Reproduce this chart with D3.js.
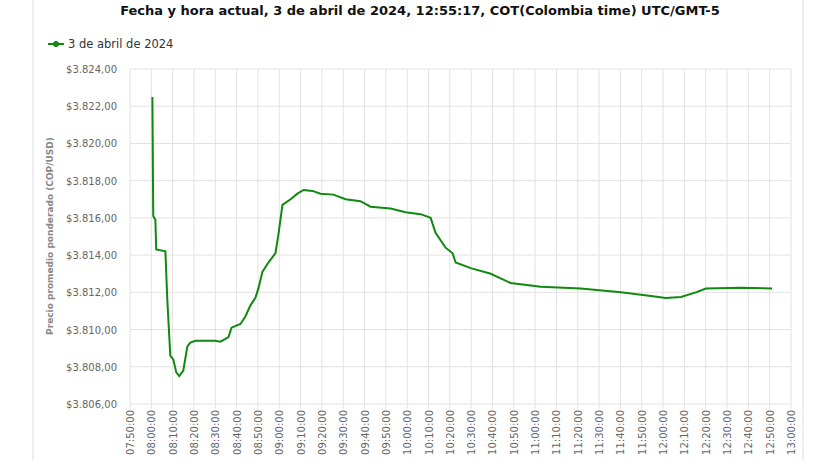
<!DOCTYPE html>
<html><head><meta charset="utf-8">
<script src="https://cdn.jsdelivr.net/npm/d3@7"></script>
<style>body{margin:0;background:#fff;font-family:"DejaVu Sans",sans-serif}</style>
</head><body>
<svg width="826" height="460"></svg>
<script>
// minutes after 08:00 and price (COP/USD)
var minutes = [0.5,0.9,1.9,2.3,6.6,7.5,8.9,10.3,11.7,13.1,15,16.9,18.3,20.7,30,32.4,36.2,37.6,41.8,44.1,46.5,48.8,50.2,52.1,54.9,58.2,59.6,61.5,65.3,68.5,71.4,75.6,79.3,85.4,91.1,98.1,102.8,112.2,119.2,126.3,131,133.3,138,141.3,142.7,149.8,159.2,168.5,182.6,201.4,220.2,234.3,241.3,248.4,255.4,260.1,276.5,291.1];
var prices = [3822.5,3816.1,3815.9,3814.3,3814.2,3811.6,3808.6,3808.4,3807.7,3807.5,3807.8,3809.1,3809.3,3809.4,3809.4,3809.35,3809.6,3810.1,3810.3,3810.7,3811.3,3811.7,3812.2,3813.1,3813.6,3814.1,3815.1,3816.7,3817.0,3817.3,3817.5,3817.45,3817.3,3817.25,3817.0,3816.9,3816.6,3816.5,3816.3,3816.2,3816.0,3815.2,3814.4,3814.1,3813.6,3813.3,3813.0,3812.5,3812.3,3812.2,3812.0,3811.8,3811.7,3811.75,3812.0,3812.2,3812.25,3812.2];
var yTicks = [3806,3808,3810,3812,3814,3816,3818,3820,3822,3824];
var title = "Fecha y hora actual, 3 de abril de 2024, 12:55:17, COT(Colombia time) UTC/GMT-5";
var seriesName = "3 de abril de 2024";

var svg = d3.select("svg");
var base = new Date(2024, 3, 3, 8, 0, 0);
var toDate = function (m) { return new Date(base.getTime() + m * 60000); };
var x = d3.scaleTime().domain([new Date(2024,3,3,7,50), new Date(2024,3,3,13,0)]).range([130, 791]);
var y = d3.scaleLinear().domain([3806, 3824]).range([404, 69]);
var xTicks = d3.timeMinute.every(10).range(x.domain()[0], new Date(2024,3,3,13,0,1));
var fmt = function (v) { return "$" + d3.format(",.2f")(v).replace(/,/g, "#").replace(".", ",").replace(/#/g, "."); };

// frame lines
svg.append("line").attr("x1",33).attr("x2",33).attr("y1",0).attr("y2",460).attr("stroke","#ddd");
svg.append("line").attr("x1",803).attr("x2",803).attr("y1",0).attr("y2",460).attr("stroke","#ddd");

// grid
svg.append("g").selectAll("line").data(yTicks).enter().append("line")
  .attr("x1",130).attr("x2",791).attr("y1",function(d){return y(d);}).attr("y2",function(d){return y(d);})
  .attr("stroke","#e2e2e2");
svg.append("g").selectAll("line").data(xTicks).enter().append("line")
  .attr("x1",function(d){return x(d);}).attr("x2",function(d){return x(d);}).attr("y1",69).attr("y2",409)
  .attr("stroke","#e2e2e2");

// y labels
svg.append("g").selectAll("text").data(yTicks).enter().append("text")
  .attr("x",117).attr("y",function(d){return y(d)+4;}).attr("text-anchor","end")
  .attr("font-size",10).attr("fill","#666").text(fmt);

// x labels
svg.append("g").selectAll("text").data(xTicks).enter().append("text")
  .attr("transform",function(d){return "translate("+(x(d)+4)+",410) rotate(-90)";})
  .attr("text-anchor","end").attr("font-size",10).attr("fill","#666")
  .text(d3.timeFormat("%H:%M:%S"));

// y title
svg.append("text").attr("transform","translate(53,236) rotate(-90)").attr("text-anchor","middle")
  .attr("font-size",9).attr("font-weight","bold").attr("fill","#888").text("Precio promedio ponderado (COP/USD)");

// title
svg.append("text").attr("x",420).attr("y",15).attr("text-anchor","middle").attr("font-size",13)
  .attr("font-weight",600).attr("fill","#111").text(title);

// legend
svg.append("line").attr("x1",48).attr("x2",64).attr("y1",44).attr("y2",44).attr("stroke","#118811").attr("stroke-width",2);
svg.append("circle").attr("cx",56).attr("cy",44).attr("r",3).attr("fill","#118811");
svg.append("text").attr("x",68).attr("y",48).attr("font-size",11.5).attr("fill","#333").text(seriesName);

// line
var pts = minutes.map(function(m,i){return {t: toDate(m), v: prices[i]};});
svg.append("path").datum(pts).attr("fill","none").attr("stroke","#118811").attr("stroke-width",2)
  .attr("d", d3.line().x(function(d){return x(d.t);}).y(function(d){return y(d.v);}));
</script>
</body></html>
